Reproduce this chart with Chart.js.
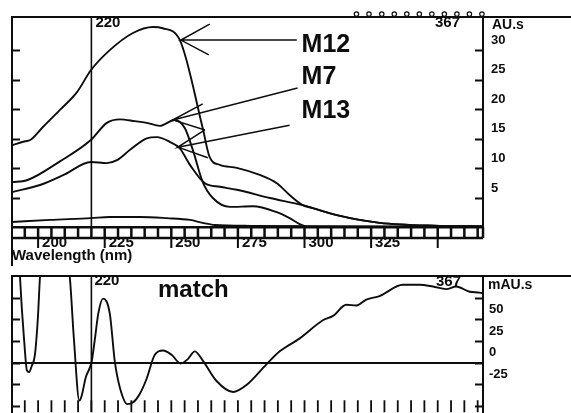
<!DOCTYPE html>
<html>
<head>
<meta charset="utf-8">
<script src="https://cdn.jsdelivr.net/npm/chart.js@4.4.1/dist/chart.umd.min.js"></script>
<style>
  html, body { margin: 0; padding: 0; background: #fff; width: 571px; height: 413px; overflow: hidden; }
  canvas { position: absolute; left: 0; }
  #top { top: 0; }
  #bot { top: 262px; }
</style>
</head>
<body>
<canvas id="top" width="571" height="266" style="width:571px;height:266px"></canvas>
<canvas id="bot" width="571" height="164" style="width:571px;height:164px"></canvas>
<script>
/*
 * Two stacked DAD panels: upper = spectra of M12 / M7 / M13 (AU.s),
 * lower = the "match" difference trace (mAU.s). Same wavelength axis.
 */
const ink = '#0d0d0d';
const FONT = "'Liberation Sans', Arial, sans-serif";

// wavelength axis (nm)
const WL_MIN = 190.2;
const WL_MAX = 367;
const xLabelWl = [200, 225, 250, 275, 300, 325];
const majorTickWl = [200, 225, 250, 275, 300, 325, 350];
const minorTickWl = [195, 200, 205, 210, 215, 220, 225, 230, 235, 240, 245, 250, 255, 260, 265, 270, 275,
  280, 285, 290, 295, 300, 305, 310, 315, 320, 325, 330, 335, 340, 345, 350, 355, 360, 365];
const markerWl = [319.5, 324.2, 329.0, 333.7, 338.4, 343.1, 347.8, 352.5, 357.2, 361.9, 366.6];

// upper panel (AU.s)
const TOP_MAX = 35.6;
const topYTicks = [5, 10, 15, 20, 25, 30];

const m12Wl = [190.2, 195.1, 197.0, 201.8, 208.2, 214.6, 219.8, 226.9, 235.6, 243.1, 246.8, 253.2, 261.8, 264.4,
  268.2, 274.6, 283.2, 289.6, 294.4, 299.3, 303.1, 312.1, 328.2, 350.7, 367];
const m12Au = [13.9, 14.6, 14.8, 17.0, 19.9, 22.9, 26.6, 30.0, 32.9, 33.9, 33.7, 31.7, 16.8, 11.9,
  10.6, 10.1, 8.9, 7.5, 5.5, 3.8, 3.3, 2.1, 0.8, 0.3, 0.2];

const m7Wl = [190.2, 195.8, 208.2, 219.8, 225.8, 230.7, 236.3, 240.8, 245.7, 251.3, 255.1, 258.1, 261.8, 265.6,
  272.0, 280.6, 289.6, 294.4, 298.2, 302.0, 320, 367];
const m7Au = [7.7, 8.0, 11.2, 14.8, 17.7, 18.3, 18.0, 17.7, 17.2, 18.2, 16.8, 13.1, 7.7, 5.0,
  3.5, 3.6, 2.6, 1.6, 0.6, 0.1, 0.05, 0.05];

const m13Wl = [190.2, 200.7, 210.0, 219.8, 225.8, 229.6, 234.4, 240.8, 244.6, 249.4, 253.2, 257.0, 262.6, 268.2,
  274.6, 287.0, 299.3, 303.1, 312.1, 328.2, 350.7, 367];
const m13Au = [6.0, 7.2, 9.0, 11.1, 10.9, 11.4, 13.1, 15.1, 15.3, 14.5, 13.4, 10.6, 7.5, 6.9,
  6.4, 5.0, 3.8, 3.3, 2.1, 0.8, 0.3, 0.2];

const lowWl = [190.2, 204.5, 219.8, 226.9, 238.2, 248.3, 257.0, 261.8, 266.3, 279.4, 367];
const lowAu = [0.95, 1.3, 1.6, 1.8, 1.8, 1.6, 1.3, 0.8, 0.45, 0.3, 0.2];

// peak labels and their arrows (nm, AU.s)
const labelNames = ['M12', 'M7', 'M13'];
const labelWl = [298.9, 298.9, 298.9];
const labelAu = [30.8, 25.4, 19.7];
const arrowTipWl = [253.6, 250.6, 252.5];
const arrowTipAu = [31.7, 18.2, 13.6];
const arrowEndWl = [297.1, 297.4, 294.4];
const arrowEndAu = [31.7, 23.6, 17.3];
const barbUpWl = [264.4, 261.8, 262.6];
const barbUpAu = [34.4, 20.9, 16.5];
const barbDnWl = [264.1, 262.6, 263.7];
const barbDnAu = [29.2, 16.5, 11.8];

// lower panel (mAU.s)
const BOT_MIN = -57.4;
const BOT_MAX = 100.2;
const botYTicks = [-50, -25, 0, 25, 50, 75];
const botYLabels = [-25, 0, 25, 50];
const matchWl = [190.2, 192.0, 193.2, 193.9, 194.7, 195.8, 196.6, 197.6, 198.8, 199.9, 200.7, 201.8, 205.5, 209.8,
  211.9, 213.4, 215.5, 216.3, 217.9, 220.1, 221.3, 222.6, 224.4, 226.9, 228.8, 230.7, 233.5, 235.7,
  238.2, 240.7, 243.8, 246.9, 250.1, 253.5, 256.2, 258.8, 261.9, 266.9, 273.2, 278.2, 285.7, 290.7,
  298.2, 306.9, 310.7, 315.7, 319.5, 323.2, 328.2, 336.9, 343.2, 348.2, 353.2, 356.9, 362.0, 365.7, 367];
const matchMau = [220, 150, 99, 62, 28, -9, -11, -4, 9, 51, 99, 140, 230, 140,
  99, 29, -44, -39, -17, 1, 27, 57, 74, 57, 1, -29, -48, -46,
  -36, -19, 9, 14, 9, -1, 4, 13, 2, -21, -34, -26, -2, 13,
  28, 49, 54, 67, 66, 73, 77, 90, 90, 88, 85, 88, 82, 81, 80];

Chart.defaults.font.family = FONT;
Chart.defaults.color = ink;

const pts = (xs, ys) => xs.map((x, i) => ({ x, y: ys[i] }));

function curve(xs, ys) {
  return {
    data: pts(xs, ys), borderColor: ink, borderWidth: 1.9, pointRadius: 0,
    cubicInterpolationMode: 'monotone', fill: false,
  };
}

function straight(data, w) {
  return { data, borderColor: ink, borderWidth: w || 1.6, pointRadius: 0, tension: 0, fill: false };
}

function arrows() {
  return labelNames.map((_, i) => straight([
    { x: arrowEndWl[i], y: arrowEndAu[i] },
    { x: arrowTipWl[i], y: arrowTipAu[i] },
    { x: barbUpWl[i], y: barbUpAu[i] },
    { x: arrowTipWl[i], y: arrowTipAu[i] },
    { x: barbDnWl[i], y: barbDnAu[i] },
  ], 1.5));
}

// frame: top rule past the axis, left rule to the page bottom, inward ticks, wavelength ruler
const frame = {
  id: 'frame',
  afterDraw(chart, args, o) {
    const { ctx, chartArea: a, scales: { x, y } } = chart;
    ctx.save();
    ctx.strokeStyle = ink;
    ctx.lineWidth = 2;
    ctx.beginPath();
    ctx.moveTo(a.left, a.top); ctx.lineTo(chart.width, a.top);
    ctx.moveTo(a.left, a.top - 1); ctx.lineTo(a.left, chart.height);
    o.yTicks.forEach(v => {
      const py = Math.round(y.getPixelForValue(v)) + 0.5;
      ctx.moveTo(a.left, py); ctx.lineTo(a.left + 8, py);
      ctx.moveTo(a.right, py); ctx.lineTo(a.right - 8, py);
    });
    ctx.stroke();

    if (o.ruler) {
      const y0 = a.bottom, y1 = a.bottom + 10.5;
      ctx.lineWidth = 2.5;
      ctx.beginPath();
      ctx.moveTo(a.left, y1); ctx.lineTo(a.right, y1);
      ctx.moveTo(a.right, y0); ctx.lineTo(a.right, y1);
      minorTickWl.forEach(w => {
        const px = x.getPixelForValue(w);
        ctx.moveTo(px, y0); ctx.lineTo(px, y1);
      });
      ctx.stroke();
      ctx.lineWidth = 2;
      ctx.beginPath();
      majorTickWl.forEach(w => {
        const px = x.getPixelForValue(w);
        ctx.moveTo(px, y1); ctx.lineTo(px, y1 + 10);
      });
      ctx.stroke();
    }
    if (o.bottomTicks) {
      ctx.lineWidth = 1.8;
      ctx.beginPath();
      minorTickWl.forEach(w => {
        const px = x.getPixelForValue(w);
        ctx.moveTo(px, a.bottom - 12); ctx.lineTo(px, a.bottom);
      });
      ctx.stroke();
    }
    ctx.restore();
  }
};

// free text: cursor markers, units, peak names
const notes = {
  id: 'notes',
  afterDraw(chart, args, o) {
    const { ctx, chartArea: a, scales: { x, y } } = chart;
    ctx.save();
    ctx.fillStyle = ink;
    ctx.textBaseline = 'middle';
    o.items.forEach(t => {
      ctx.font = `bold ${t.size}px ${FONT}`;
      ctx.textAlign = t.align || 'left';
      const px = t.wl !== undefined ? x.getPixelForValue(t.wl) + (t.dx || 0) : a.right + t.dx;
      const py = t.v !== undefined ? y.getPixelForValue(t.v) : a.top + t.dy;
      ctx.fillText(t.text, px, py);
    });
    ctx.restore();
  }
};

const tickFont = { size: 13, weight: 'bold' };

new Chart(document.getElementById('top'), {
  type: 'line',
  data: {
    datasets: [
      curve(m12Wl, m12Au),
      curve(m7Wl, m7Au),
      curve(m13Wl, m13Au),
      curve(lowWl, lowAu),
      straight([{ x: 220, y: 0 }, { x: 220, y: TOP_MAX }], 1.6),
      ...arrows(),
      {
        data: markerWl.map(w => ({ x: w, y: 36.1 })), showLine: false, clip: false,
        pointRadius: 2.2, pointBorderWidth: 1.2, pointBorderColor: ink, pointBackgroundColor: '#fff',
      },
    ]
  },
  options: {
    responsive: false,
    animation: false,
    layout: { padding: { top: 17, left: 12, right: 0, bottom: 0 } },
    plugins: {
      legend: { display: false },
      tooltip: { enabled: false },
      frame: { yTicks: topYTicks, ruler: true },
      notes: {
        items: [
          { text: '220', wl: 220, dx: 4, dy: 6, size: 15 },
          { text: '367', wl: 367, dx: -23, dy: 6, size: 15, align: 'right' },
          { text: 'AU.s', dx: 9, dy: 8, size: 14 },
          ...labelNames.map((n, i) => ({ text: n, wl: labelWl[i], v: labelAu[i], size: 25 })),
        ]
      },
    },
    scales: {
      x: {
        type: 'linear', min: WL_MIN, max: WL_MAX,
        grid: { display: false, drawTicks: false },
        border: { display: true, color: ink, width: 2.5 },
        afterBuildTicks: s => { s.ticks = xLabelWl.map(v => ({ value: v })); },
        afterFit: s => { s.height = 38.4; },
        ticks: { align: 'start', labelOffset: 4, padding: 6, maxRotation: 0, autoSkip: false,
                 color: ink, font: { size: 15, weight: 'bold' }, callback: v => String(v) },
        title: { display: true, text: 'Wavelength (nm)', align: 'start', color: ink,
                 font: { size: 15, weight: 'bold' }, padding: { top: 0, bottom: 1 } },
      },
      y: {
        position: 'right', min: 0, max: TOP_MAX,
        grid: { display: false, drawTicks: false },
        border: { display: true, color: ink, width: 2 },
        afterBuildTicks: s => { s.ticks = topYTicks.map(v => ({ value: v })); },
        afterFit: s => { s.width = 88; },
        ticks: { padding: 8, labelOffset: -10, color: ink, font: tickFont },
      },
    },
  },
  plugins: [frame, notes],
});

new Chart(document.getElementById('bot'), {
  type: 'line',
  data: {
    datasets: [
      curve(matchWl, matchMau),
      straight([{ x: 220, y: BOT_MIN }, { x: 220, y: BOT_MAX }], 1.6),
    ]
  },
  options: {
    responsive: false,
    animation: false,
    layout: { padding: { top: 14, left: 12, right: 0, bottom: 10 } },
    plugins: {
      legend: { display: false },
      tooltip: { enabled: false },
      frame: { yTicks: botYTicks, bottomTicks: true },
      notes: {
        items: [
          { text: '220', wl: 220, dx: 3, dy: 5, size: 15 },
          { text: '367', wl: 367, dx: -22, dy: 6, size: 15, align: 'right' },
          { text: 'mAU.s', dx: 5, dy: 9, size: 14 },
          { text: 'match', wl: 245, v: 83, size: 24 },
        ]
      },
    },
    scales: {
      x: { type: 'linear', min: WL_MIN, max: WL_MAX, display: false },
      y: {
        position: 'right', min: BOT_MIN, max: BOT_MAX,
        grid: { display: true, drawTicks: false, lineWidth: 2,
                color: c => (c.tick && c.tick.value === 0 ? ink : 'rgba(0,0,0,0)') },
        border: { display: true, color: ink, width: 2 },
        afterBuildTicks: s => { s.ticks = botYLabels.map(v => ({ value: v })); },
        afterFit: s => { s.width = 88; },
        ticks: { padding: 6, labelOffset: -10, color: ink, font: tickFont },
      },
    },
  },
  plugins: [frame, notes],
});
</script>
</body>
</html>
